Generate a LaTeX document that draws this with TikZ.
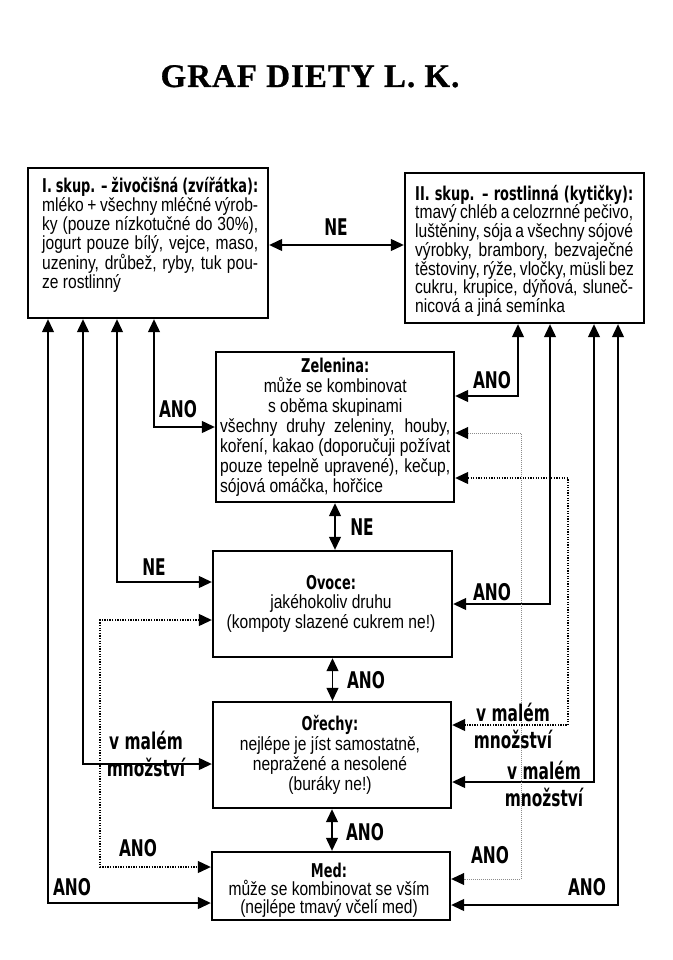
\documentclass[tikz,border=0pt]{standalone}
\usepackage{fontspec}
\setmainfont{Liberation Sans}[FakeStretch=0.82]
\newfontfamily\hdfont{DejaVu Sans Bold}[FakeStretch=0.68]
\newfontfamily\lblfont{DejaVu Sans Bold}[FakeStretch=0.67]
\newfontfamily\ttlfont{Liberation Serif Bold}[LetterSpace=3, FakeBold=0.8]
\usetikzlibrary{arrows.meta}
\newcommand\myfst{\rule{0pt}{16pt}}
\newcommand\hd[1]{{\hdfont #1}}
\newcommand\jlA[1]{\makebox[216pt][s]{#1}}
\newcommand\jlB[1]{\makebox[218pt][s]{#1}}
\newcommand\jlZ[1]{\makebox[230pt][s]{#1}}
\newcommand\clZ[1]{\makebox[230pt][c]{#1}}
\begin{document}
\begin{tikzpicture}[x=1pt,y=-1pt,
 box/.style={draw, line width=2.4pt, inner sep=0pt},
 txt/.style={inner sep=0pt},
 lbl/.style={inner sep=0pt, font=\lblfont\fontsize{23}{27.5}\selectfont, align=center},
 dcon/.style={line width=1.2pt, {Triangle[length=13pt,width=12pt,color=black]}-{Triangle[length=13pt,width=12pt,color=black]}},
 dots/.style={dash pattern=on 1.3pt off 1.3pt},
 gdots/.style={draw=black!45, line width=0.9pt, dash pattern=on 1pt off 1pt}
]
\fill[white] (0,0) rectangle (672,960);
\useasboundingbox (0,0) rectangle (672,960);

% title
\node[font=\ttlfont\fontsize{33}{33}\selectfont, anchor=base, inner sep=0pt] (title) at (310,87) {GRAF DIETY L. K.};

% boxes
\node[box, minimum width=240pt, minimum height=150pt] (boxI) at (148,243) {};
\node[box, minimum width=239pt, minimum height=150pt] (boxII) at (524.5,248) {};
\node[box, minimum width=238pt, minimum height=150pt] (zel) at (335,427) {};
\node[box, minimum width=239pt, minimum height=106pt] (ovo) at (332.5,604) {};
\node[box, minimum width=238pt, minimum height=106pt] (ore) at (332,755) {};
\node[box, minimum width=238pt, minimum height=68pt] (med) at (331,886) {};

% box texts
\node[txt, anchor=north west, align=left, font=\fontsize{19}{19}\selectfont] (tI) at (42,176) {%
\myfst\jlA{\hd{I. skup. – živočišná (zvířátka):}}\\
\jlA{mléko + všechny mléčné výrob-}\\
\jlA{ky (pouze nízkotučné do 30\%),}\\
\jlA{jogurt pouze bílý, vejce, maso,}\\
\jlA{uzeniny, drůbež, ryby, tuk pou-}\\
ze rostlinný};

\node[txt, anchor=north west, align=left, font=\fontsize{19}{18.7}\selectfont] (tII) at (415,184) {%
\myfst\jlB{\hd{II. skup. – rostlinná (kytičky):}}\\
\jlB{tmavý chléb a celozrnné pečivo,}\\
\jlB{luštěniny, sója a všechny sójové}\\
\jlB{výrobky, brambory, bezvaječné}\\
\jlB{těstoviny, rýže, vločky, müsli bez}\\
\jlB{cukru, krupice, dýňová, sluneč-}\\
nicová a jiná semínka};

\node[txt, anchor=north west, align=left, font=\fontsize{19}{20}\selectfont] (tZ) at (220,356) {%
\myfst\clZ{\hd{Zelenina:}}\\
\clZ{může se kombinovat}\\
\clZ{s oběma skupinami}\\
\jlZ{všechny druhy zeleniny, houby,}\\
\jlZ{koření, kakao (doporučuji požívat}\\
\jlZ{pouze tepelně upravené), kečup,}\\
sójová omáčka, hořčice};

\node[txt, anchor=north, align=center, font=\fontsize{19}{19.5}\selectfont] (tO) at (331,573) {%
\myfst\hd{Ovoce:}\\
jakéhokoliv druhu\\
(kompoty slazené cukrem ne!)};

\node[txt, anchor=north, align=center, font=\fontsize{19}{20}\selectfont] (tR) at (330,714) {%
\myfst\hd{Ořechy:}\\
nejlépe je jíst samostatně,\\
nepražené a nesolené\\
(buráky ne!)};

\node[txt, anchor=north, align=center, font=\fontsize{19}{18}\selectfont] (tM) at (329,861) {%
\myfst\hd{Med:}\\
může se kombinovat se vším\\
(nejlépe tmavý včelí med)};

% lanes
\coordinate (l1) at (48,0);
\coordinate (l2) at (83,0);
\coordinate (l3) at (117,0);
\coordinate (l4) at (154,0);
\coordinate (r1) at (518,0);
\coordinate (r2) at (550,0);
\coordinate (r3) at (594,0);
\coordinate (r4) at (618,0);
\coordinate (ld) at (100,867);
\coordinate (rg) at (521,879);
\coordinate (rd) at (568,725);
\coordinate (ney) at (0,245);

% top connector
\draw[dcon] (boxI.east |- ney) -- (boxII.west |- ney);

% left connectors
\draw[dcon] (boxI.south -| l4) |- (zel.west);
\draw[dcon] (boxI.south -| l3) |- ([yshift=22pt]ovo.west);
\draw[dcon] (boxI.south -| l2) |- ([yshift=-9pt]ore.west);
\draw[dcon] (boxI.south -| l1) |- ([yshift=-17pt]med.west);
\draw[dcon, dots] ([yshift=-16pt]ovo.west) -| (ld) -- (ld -| med.west);

% right connectors
\draw[dcon] (boxII.south -| r1) |- ([yshift=31pt]zel.east);
\draw[dcon] (boxII.south -| r2) |- (ovo.east);
\draw[dcon] (boxII.south -| r3) |- ([yshift=-27pt]ore.east);
\draw[dcon] (boxII.south -| r4) |- ([yshift=-19pt]med.east);
\draw[dcon, gdots] ([yshift=-6pt]zel.east) -| (rg) -- (rg -| med.east);
\draw[dcon, dots] ([yshift=-51pt]zel.east) -| (rd) -- (rd -| ore.east);

% central connectors
\draw[dcon] (zel.south) -- (zel.south |- ovo.north);
\draw[dcon] (ovo.south) -- (ovo.south |- ore.north);
\draw[dcon] (ore.south) -- (ore.south |- med.north);

% labels
\node[lbl] (lNE) at (336,227) {NE};
\node[lbl] (lA1) at (178,409) {ANO};
\node[lbl] (lN2) at (154,567) {NE};
\node[lbl] (lV1) at (146,754) {v malém\\množství};
\node[lbl] (lA2) at (138,848) {ANO};
\node[lbl] (lA3) at (72,887) {ANO};
\node[lbl] (rA1) at (492,380) {ANO};
\node[lbl] (rA2) at (492,592) {ANO};
\node[lbl] (rV1) at (513,726) {v malém\\množství};
\node[lbl] (rV2) at (544,784) {v malém\\množství};
\node[lbl] (rA3) at (490,855) {ANO};
\node[lbl] (rA4) at (587,887) {ANO};
\node[lbl] (cN) at (362,527) {NE};
\node[lbl] (cA1) at (366,680) {ANO};
\node[lbl] (cA2) at (365,832) {ANO};
\end{tikzpicture}
\end{document}
